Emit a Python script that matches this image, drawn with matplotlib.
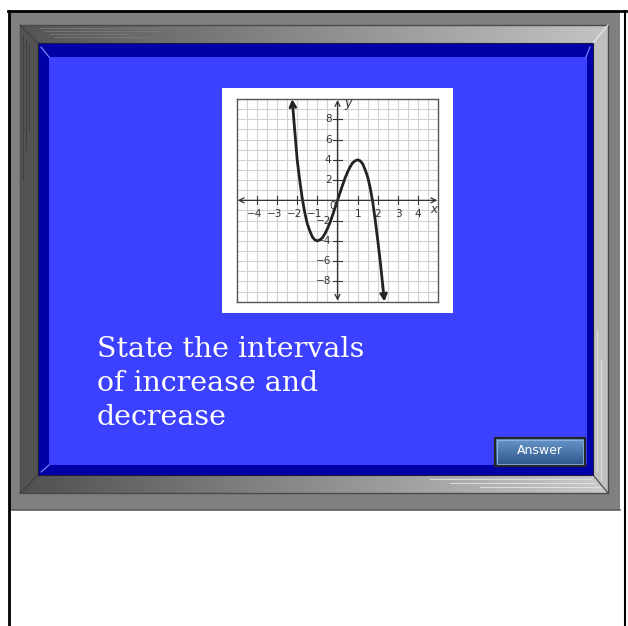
import numpy as np
import matplotlib
matplotlib.use("Agg")
import matplotlib.pyplot as plt
from matplotlib.patches import Polygon, Rectangle
from matplotlib.colors import LinearSegmentedColormap

# points
curve_x = [-2.25, -2.125, -2.0, -1.875, -1.75, -1.625, -1.5, -1.375, -1.25, -1.125,
           -1.0, -0.875, -0.75, -0.625, -0.5, -0.375, -0.25, 0.0, 0.25, 0.375,
           0.5, 0.625, 0.75, 0.875, 1.0, 1.125, 1.25, 1.375, 1.5, 1.625,
           1.75, 1.875, 2.0, 2.125, 2.25, 2.33]
curve_y = [10.0, 7.0, 4.0, 2.0, 0.2, -1.2, -2.3, -3.0, -3.6, -3.9,
           -4.0, -3.9, -3.7, -3.3, -2.8, -2.2, -1.5, 0.0, 1.5, 2.2,
           2.8, 3.3, 3.7, 3.9, 4.0, 3.9, 3.6, 3.0, 2.3, 1.2,
           -0.2, -2.0, -4.0, -6.1, -8.5, -10.0]

x_ticks = [-4, -3, -2, -1, 1, 2, 3, 4]
y_ticks = [-8, -6, -4, -2, 2, 4, 6, 8]

prompt_lines = ["State the intervals", "of increase and", "decrease"]
button_text = "Answer"

W, H = 628, 626
fig = plt.figure(figsize=(W / 100, H / 100), dpi=100)
fig.patch.set_facecolor("white")

bg = fig.add_axes([0, 0, 1, 1])
bg.set_axis_off()


def gradient_fill(ax, verts, c0, c1, horizontal=True, z=1):
    poly = Polygon(verts, closed=True, facecolor="none", edgecolor="none", zorder=z)
    ax.add_patch(poly)
    xs = [v[0] for v in verts]
    ys = [v[1] for v in verts]
    cmap = LinearSegmentedColormap.from_list("g", [c0, c1])
    if horizontal:
        grad = np.linspace(0, 1, 256).reshape(1, -1)
    else:
        grad = np.linspace(0, 1, 256).reshape(-1, 1)
    im = ax.imshow(grad, cmap=cmap, aspect="auto", origin="upper",
                   extent=(min(xs), max(xs), max(ys), min(ys)),
                   interpolation="bilinear", zorder=z)
    im.set_clip_path(poly)


# outer frame and page border
bg.add_patch(Rectangle((10, 12), 610, 498, facecolor="#808080", edgecolor="none", zorder=0.5))
bg.plot([10, 620], [509.5, 509.5], color="#5e5e5e", lw=1.2, zorder=2)
bg.plot([8, 626], [11, 11], color="black", lw=2, zorder=2)
bg.plot([9, 9], [11, 626], color="black", lw=2, zorder=2)
bg.plot([625, 625], [11, 626], color="black", lw=1.5, zorder=2)

# bevel pieces
L, T, R, B = 20, 25, 608, 493
l, t, r, b = 38, 43, 593, 475
gradient_fill(bg, [(L, T), (R, T), (r, t), (l, t)], "#545454", "#c4c4c4", z=1)
bg.add_patch(Polygon([(L, T), (l, t), (l, b), (L, B)], facecolor="#535353", edgecolor="none", zorder=1))
bg.add_patch(Polygon([(R, T), (R, B), (r, b), (r, t)], facecolor="#c0c0c0", edgecolor="none", zorder=1))
gradient_fill(bg, [(L, B), (l, b), (r, b), (R, B)], "#505050", "#cacaca", z=1)
bg.add_patch(Rectangle((L, T), R - L, B - T, facecolor="none", edgecolor="#4a4a4a", lw=1, zorder=2))
bg.plot([L, l], [T, t], color="#3e3e3e", lw=0.8, zorder=2)
bg.plot([L, l], [B, b], color="#3e3e3e", lw=0.8, zorder=2)
bg.plot([R, r], [T, t], color="#eeeeee", lw=0.8, zorder=2)
bg.plot([R, r], [B, b], color="#444444", lw=0.8, zorder=2)

# streaks on the bevel
for yy, x0, x1 in [(28, 40, 190), (31, 45, 160), (34, 50, 130), (37, 55, 150)]:
    bg.plot([x0, x1], [yy, yy], color="#7a7a7a", lw=0.6, zorder=2)
for xx, y0, y1 in [(23, 35, 180), (26, 40, 150), (29, 45, 130)]:
    bg.plot([xx, xx], [y0, y1], color="#3c3c3c", lw=0.6, zorder=2)
for yy, x0, x1 in [(479, 430, 590), (483, 450, 595), (487, 480, 600)]:
    bg.plot([x0, x1], [yy, yy], color="#e6e6e6", lw=0.6, zorder=2)
for xx, y0, y1 in [(597, 330, 470), (601, 360, 480)]:
    bg.plot([xx, xx], [y0, y1], color="#e2e2e2", lw=0.6, zorder=2)

# blue panel
bg.add_patch(Rectangle((l, t), r - l, b - t, facecolor="#0000a8", edgecolor="#1a1a40", lw=0.8, zorder=3))
bg.add_patch(Rectangle((49, 57), 538, 408, facecolor="#3c40ff", edgecolor="none", zorder=3))
bg.plot([41, 49], [47, 57], color="#8c8cff", lw=0.8, zorder=3)
bg.plot([41, 49], [472, 465], color="#8c8cff", lw=0.8, zorder=3)
bg.plot([590, 586], [47, 57], color="#8c8cff", lw=0.8, zorder=3)

# white box behind the graph
bg.add_patch(Rectangle((222, 88), 231, 225, facecolor="white", edgecolor="none", zorder=3))

# prompt text
for i, line in enumerate(prompt_lines):
    bg.text(97, 357 + i * 34, line, color="white", fontsize=20.5,
            family="DejaVu Serif", ha="left", va="baseline", zorder=4)

# answer button
gradient_fill(bg, [(495, 438), (585, 438), (585, 466), (495, 466)],
              "#6a98cc", "#2c5488", horizontal=False, z=4)
bg.add_patch(Rectangle((497, 440), 86, 24, facecolor="none", edgecolor="#8db4e0", lw=0.7, zorder=5))
bg.add_patch(Rectangle((495, 438), 90, 28, facecolor="none", edgecolor="#262626", lw=1.6, zorder=5))
bg.text(540, 451, button_text, color="white", fontsize=9, family="DejaVu Sans",
        ha="center", va="center", zorder=6)

bg.set_xlim(0, W)
bg.set_ylim(H, 0)

# the graph
gx0, gx1, gy0, gy1 = 236.7, 438.3, 99.0, 301.7
ax = fig.add_axes([gx0 / W, (H - gy1) / H, (gx1 - gx0) / W, (gy1 - gy0) / H])
ax.set_xlim(-5, 5)
ax.set_ylim(-10, 10)
ax.set_facecolor("white")
ax.set_xticks([])
ax.set_yticks([])
for s in ax.spines.values():
    s.set_color("#555555")
    s.set_linewidth(1.0)
for gx in np.arange(-4.5, 5, 0.5):
    ax.axvline(gx, color="#d2d2d2", lw=0.8, zorder=0)
for gy in range(-9, 10):
    ax.axhline(gy, color="#d2d2d2", lw=0.8, zorder=0)

axis_col = "#333333"
ax.annotate("", xy=(4.95, 0), xytext=(-4.95, 0),
            arrowprops=dict(arrowstyle="<->", color=axis_col, lw=0.9, mutation_scale=9,
                            shrinkA=0, shrinkB=0))
ax.annotate("", xy=(0, 9.9), xytext=(0, -9.9),
            arrowprops=dict(arrowstyle="<->", color=axis_col, lw=0.9, mutation_scale=9,
                            shrinkA=0, shrinkB=0))

lab_font = dict(fontsize=7.5, color="#333333", family="DejaVu Sans")
for xv in x_ticks:
    ax.plot([xv, xv], [-0.4, 0.4], color=axis_col, lw=0.8)
    ax.text(xv - 0.12 if xv < 0 else xv, -1.3, str(xv).replace("-", "\u2212"),
            ha="center", va="center", **lab_font)
for yv in y_ticks:
    ax.plot([-0.2, 0.2], [yv, yv], color=axis_col, lw=0.8)
    ax.text(-0.3, yv, str(yv).replace("-", "\u2212"), ha="right", va="center", **lab_font)
ax.text(-0.25, -0.6, "0", ha="center", va="center", **lab_font)
ax.text(0.5, 9.6, "y", ha="center", va="center", fontsize=9, style="italic",
        color="#333333")
ax.text(4.8, -0.9, "x", ha="center", va="center", fontsize=8.5, style="italic",
        color="#333333")

ax.plot(curve_x[1:-1], curve_y[1:-1], color="#222222", lw=2, solid_capstyle="round",
        solid_joinstyle="round")
ax.annotate("", xy=(curve_x[0], curve_y[0]), xytext=(curve_x[1], curve_y[1]),
            arrowprops=dict(arrowstyle="->", color="#222222", lw=2, mutation_scale=10,
                            shrinkA=0, shrinkB=0))
ax.annotate("", xy=(curve_x[-1], curve_y[-1]), xytext=(curve_x[-2], curve_y[-2]),
            arrowprops=dict(arrowstyle="->", color="#222222", lw=2, mutation_scale=10,
                            shrinkA=0, shrinkB=0))

fig.savefig("out.png", dpi=100)
